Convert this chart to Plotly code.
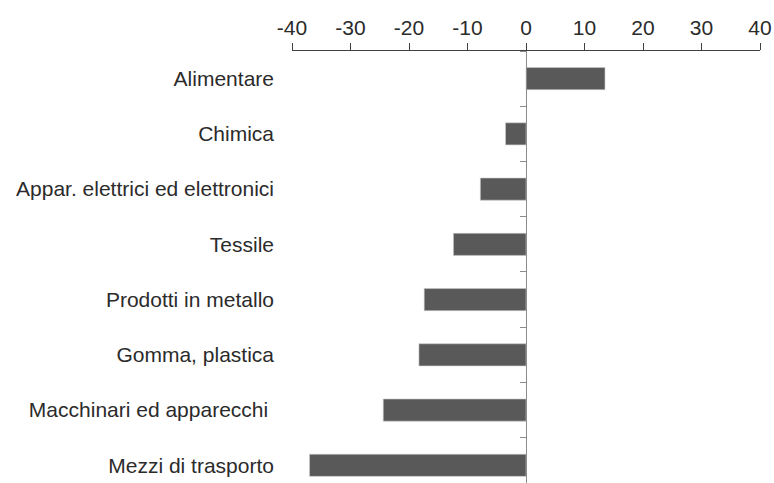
import plotly.graph_objects as go

categories = [
    "Alimentare",
    "Chimica",
    "Appar. elettrici ed elettronici",
    "Tessile",
    "Prodotti in metallo",
    "Gomma, plastica",
    "Macchinari ed apparecchi\u00a0",
    "Mezzi di trasporto",
]
values = [13.5, -3.5, -7.8, -12.4, -17.4, -18.3, -24.4, -37.0]
x_ticks = [-40, -30, -20, -10, 0, 10, 20, 30, 40]

FONT = "Liberation Sans, Arial, sans-serif"
TXT = "#2b2b2b"

fig = go.Figure()
fig.add_trace(go.Bar(
    x=values, y=categories, orientation="h",
    marker=dict(color="#595959", line=dict(color="#c8c8c8", width=0.6)),
    width=0.4, yaxis="y2", hoverinfo="x+y",
))
# invisible companion trace carrying the category labels on the left axis
fig.add_trace(go.Scatter(
    x=[0] * len(categories), y=categories, mode="none",
    hoverinfo="skip", showlegend=False, yaxis="y",
))

yrange = [7.32, -0.5]
fig.update_layout(
    width=774, height=483,
    margin=dict(l=292, r=14, t=51, b=0),
    paper_bgcolor="white", plot_bgcolor="white",
    showlegend=False,
    font=dict(family=FONT, size=21, color=TXT),
    xaxis=dict(
        side="top", range=[-40, 40], tickvals=x_ticks,
        ticktext=[str(v) for v in x_ticks],
        showgrid=False, zeroline=False,
        showline=True, linecolor="#404040", linewidth=1,
        ticks="outside", ticklen=7, tickcolor="#404040", tickwidth=1,
        tickfont=dict(family=FONT, size=21, color=TXT),
        fixedrange=True,
    ),
    yaxis=dict(
        type="category", categoryorder="array", categoryarray=categories,
        range=yrange, showgrid=False, zeroline=False, showline=False,
        ticks="", ticklabelstandoff=17,
        tickfont=dict(family=FONT, size=21, color=TXT),
        fixedrange=True,
    ),
    yaxis2=dict(
        type="category", categoryorder="array", categoryarray=categories,
        range=yrange, overlaying="y", anchor="free", position=0.5,
        showgrid=False, zeroline=False, showticklabels=False,
        showline=True, linecolor="#8c8c8c", linewidth=1,
        ticks="outside", tickson="boundaries", ticklen=6,
        tickcolor="#8c8c8c", tickwidth=1,
        fixedrange=True,
    ),
)

fig.write_html(
    "out.html",
    config={"displayModeBar": False},
    post_script="document.body.style.margin='0';document.body.style.overflow='hidden';",
)
